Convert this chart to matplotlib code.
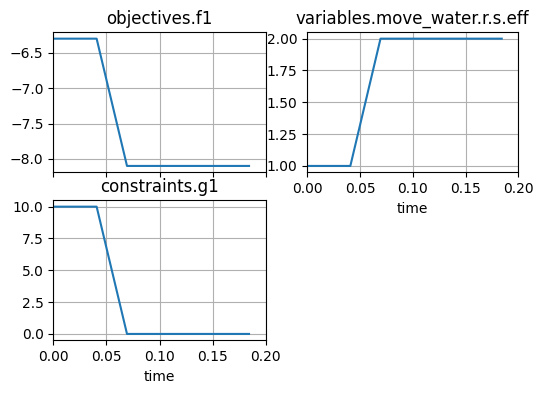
import matplotlib
matplotlib.use("Agg")
import matplotlib.pyplot as plt

time = [0.0, 0.0408, 0.0694, 0.1843]
f1 = [-6.3, -6.3, -8.1, -8.1]
eff = [1.0, 1.0, 2.0, 2.0]
g1 = [10.0, 10.0, 0.0, 0.0]

fig = plt.figure(figsize=(5.43, 3.93), dpi=100)
W, H = 543, 393

def ax_at(l, r, t, b):
    return fig.add_axes([l / W, 1 - b / H, (r - l) / W, (b - t) / H])

ax1 = ax_at(53.3, 265.7, 32.3, 172.3)
ax2 = ax_at(307.3, 518.3, 32.3, 172.3)
ax3 = ax_at(53.3, 265.7, 200.3, 340.3)

ax1.plot(time, f1)
ax1.set_title("objectives.f1")
ax1.set_xlim(0, 0.2)
ax1.tick_params(labelbottom=False)
ax1.grid(True)

ax2.plot(time, eff)
ax2.set_title("variables.move_water.r.s.eff")
ax2.set_xlim(0, 0.2)
ax2.set_xlabel("time")
ax2.grid(True)

ax3.plot(time, g1)
ax3.set_title("constraints.g1")
ax3.set_xlim(0, 0.2)
ax3.set_xlabel("time")
ax3.grid(True)

for a in (ax1, ax2, ax3):
    a.set_xticks([0, 0.05, 0.1, 0.15, 0.2])
ax1.set_xticklabels([])

fig.savefig("out.png", dpi=100)
